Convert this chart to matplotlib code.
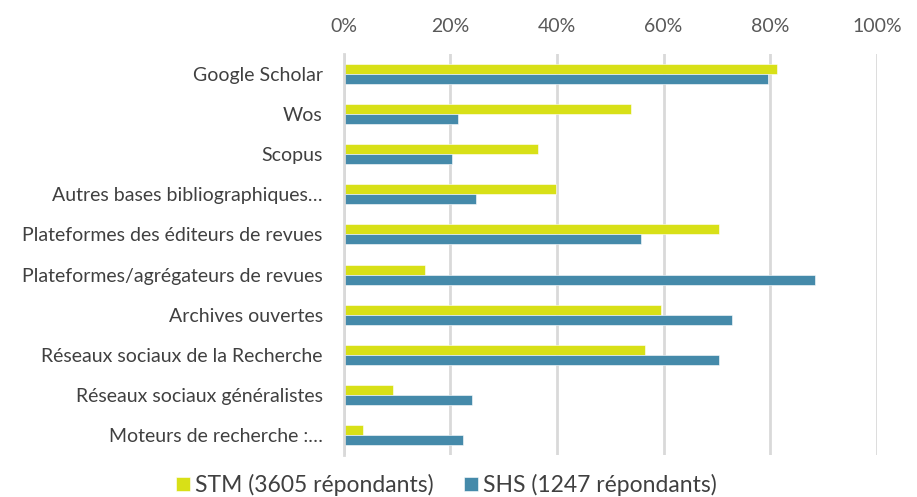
import matplotlib.pyplot as plt
import numpy as np
from matplotlib.ticker import PercentFormatter

plt.rcParams['font.family'] = ['Lato', 'DejaVu Sans']

categories = ["Google Scholar", "Wos", "Scopus", "Autres bases bibliographiques…",
              "Plateformes des éditeurs de revues", "Plateformes/agrégateurs de revues",
              "Archives ouvertes", "Réseaux sociaux de la Recherche",
              "Réseaux sociaux généralistes", "Moteurs de recherche :…"]
stm = [81.3, 53.9, 36.5, 39.8, 70.3, 15.2, 59.6, 56.6, 9.2, 3.6]
shs = [79.6, 21.5, 20.4, 24.9, 55.8, 88.4, 72.9, 70.3, 24.1, 22.4]
series_labels = ["STM (3605 répondants)", "SHS (1247 répondants)"]

stm_color = "#D8E017"
shs_color = "#458AAA"
grid_color = "#D9D9D9"

fig = plt.figure(figsize=(9.17, 4.97), dpi=100)
ax = fig.add_axes([0.3746, 0.0845, 0.9564 - 0.3746, 0.8913 - 0.0845])

y = np.arange(len(categories))
h = 0.25
ax.barh(y - h / 2, stm, height=h, color=stm_color, edgecolor="white", linewidth=0.4,
        label=series_labels[0], zorder=3)
ax.barh(y + h / 2, shs, height=h, color=shs_color, edgecolor="white", linewidth=0.4,
        label=series_labels[1], zorder=3)

ax.set_xlim(0, 100)
ax.set_ylim(len(categories) - 0.5, -0.5)
ax.set_xticks(np.arange(0, 101, 20))
ax.xaxis.set_major_formatter(PercentFormatter(decimals=0))
ax.xaxis.tick_top()
ax.set_yticks(y)
ax.set_yticklabels(categories)
ax.tick_params(axis="x", length=0, pad=14, labelsize=14, labelcolor="#595959")
ax.tick_params(axis="y", length=0, pad=15, labelsize=14, labelcolor="#404040")
ax.grid(axis="x", color=grid_color, linewidth=2, zorder=0)
for s in ["top", "right", "bottom"]:
    ax.spines[s].set_visible(False)
ax.spines["left"].set_color(grid_color)
ax.spines["left"].set_linewidth(2)
ax.spines["left"].set_zorder(4)

fig.legend(loc="center", bbox_to_anchor=(0.487, 0.024), ncol=2, frameon=False,
           fontsize=16.5, labelcolor="#404040", handlelength=0.6, handleheight=0.6,
           handletextpad=0.25, columnspacing=1.3)

fig.savefig("out.png", dpi=100)
